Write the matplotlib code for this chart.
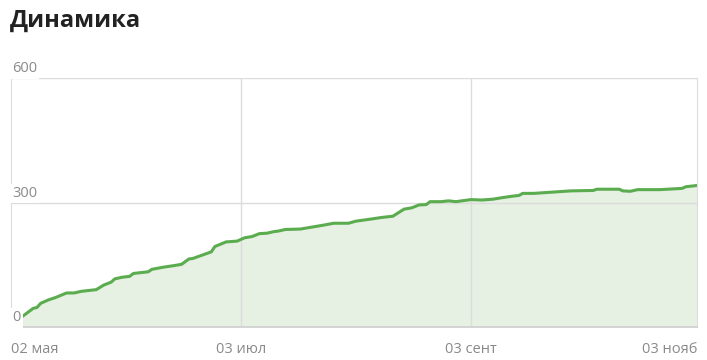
"""
Динамика: cumulative count over time, light-green area chart.
"""

import matplotlib
matplotlib.use("Agg")
import matplotlib.pyplot as plt
import pandas as pd

# ── data ─────────────────────────────────────────────────────────────
dates = [
    "2023-05-02", "2023-05-05", "2023-05-08", "2023-05-09", "2023-05-10",
    "2023-05-12", "2023-05-14", "2023-05-17", "2023-05-19", "2023-05-21",
    "2023-05-25", "2023-05-27", "2023-05-29", "2023-05-30", "2023-06-01",
    "2023-06-03", "2023-06-04", "2023-06-08", "2023-06-09", "2023-06-12",
    "2023-06-15", "2023-06-17", "2023-06-19", "2023-06-20", "2023-06-25",
    "2023-06-26", "2023-06-29", "2023-07-02", "2023-07-04", "2023-07-06",
    "2023-07-08", "2023-07-10", "2023-07-12", "2023-07-13", "2023-07-15",
    "2023-07-19", "2023-07-25", "2023-07-28", "2023-08-01", "2023-08-03",
    "2023-08-07", "2023-08-10", "2023-08-13", "2023-08-16", "2023-08-18",
    "2023-08-20", "2023-08-22", "2023-08-23", "2023-08-26", "2023-08-28",
    "2023-08-30", "2023-09-03", "2023-09-06", "2023-09-09", "2023-09-11",
    "2023-09-14", "2023-09-16", "2023-09-17", "2023-09-20", "2023-09-25",
    "2023-09-30", "2023-10-06", "2023-10-07", "2023-10-13", "2023-10-14",
    "2023-10-16", "2023-10-18", "2023-10-24", "2023-10-30", "2023-10-31",
    "2023-11-03",
]
values = [
    8, 25, 45, 47, 57,
    65, 71, 82, 82, 86,
    90, 101, 108, 116, 120,
    122, 129, 133, 139, 144,
    148, 151, 164, 165, 181,
    194, 205, 207, 215, 218,
    225, 226, 230, 231, 235,
    236, 245, 250, 250, 255,
    260, 264, 267, 284, 287,
    294, 295, 302, 302, 304,
    302, 307, 306, 308, 311,
    315, 317, 322, 322, 325,
    328, 329, 332, 332, 328,
    327, 331, 331, 334, 338,
    341,
]
tick_dates = ["2023-05-02", "2023-07-03", "2023-09-03", "2023-11-03"]
tick_labels = ["02 мая", "03 июл", "03 сент", "03 нояб"]
y_ticks = [0, 300, 600]

title = "Динамика"

# ── styling ──────────────────────────────────────────────────────────
plt.rcParams["font.family"] = ["Open Sans", "DejaVu Sans"]
LINE = "#5aac4e"
FILL = "#e6f1e3"
GRID = "#dcdcdc"
LABEL = "#8a8a8a"

x = pd.to_datetime(dates)
ticks = pd.to_datetime(tick_dates)

fig = plt.figure(figsize=(7.07, 3.6), dpi=100)
ax = fig.add_axes([11 / 707, 33 / 360, 686 / 707, 249 / 360])

ax.fill_between(x, values, 0, color=FILL, lw=0, zorder=1)
ax.plot(x, values, color=LINE, lw=2.2, zorder=2, solid_joinstyle="round")

ax.set_ylim(0, 600)
ax.set_xlim(ticks[0], x[-1])

# grid
for v in y_ticks[1:]:
    ax.axhline(v, color=GRID, lw=1, zorder=1.5)
for t in ticks[1:3]:
    ax.axvline(t, color=GRID, lw=1, zorder=1.5)

ax.spines["top"].set_visible(False)
ax.spines["left"].set_color(GRID)
ax.spines["right"].set_color(GRID)
ax.spines["bottom"].set_color("#cfcfcf")
ax.spines["bottom"].set_linewidth(1.2)

ax.set_xticks([])
ax.set_yticks([])

# y labels sit inside the plot with a white box
for v in y_ticks:
    ax.text(0.0015, v + 4, str(v), transform=ax.get_yaxis_transform(),
            ha="left", va="bottom", fontsize=10.5, color=LABEL, zorder=4,
            bbox=dict(boxstyle="square,pad=0.15", fc="white", ec="none"),
            clip_on=False)

# x labels
aligns = ["left", "center", "center", "right"]
for t, lab, ha in zip(ticks, tick_labels, aligns):
    ax.text(t, -0.06, lab, transform=ax.get_xaxis_transform(),
            ha=ha, va="top", fontsize=10.5, color=LABEL, clip_on=False)

fig.text(10 / 707, 1 - 21 / 360, title, ha="left", va="center",
         fontsize=17, fontweight="bold", color="#222222")

fig.savefig("out.png", dpi=100)
